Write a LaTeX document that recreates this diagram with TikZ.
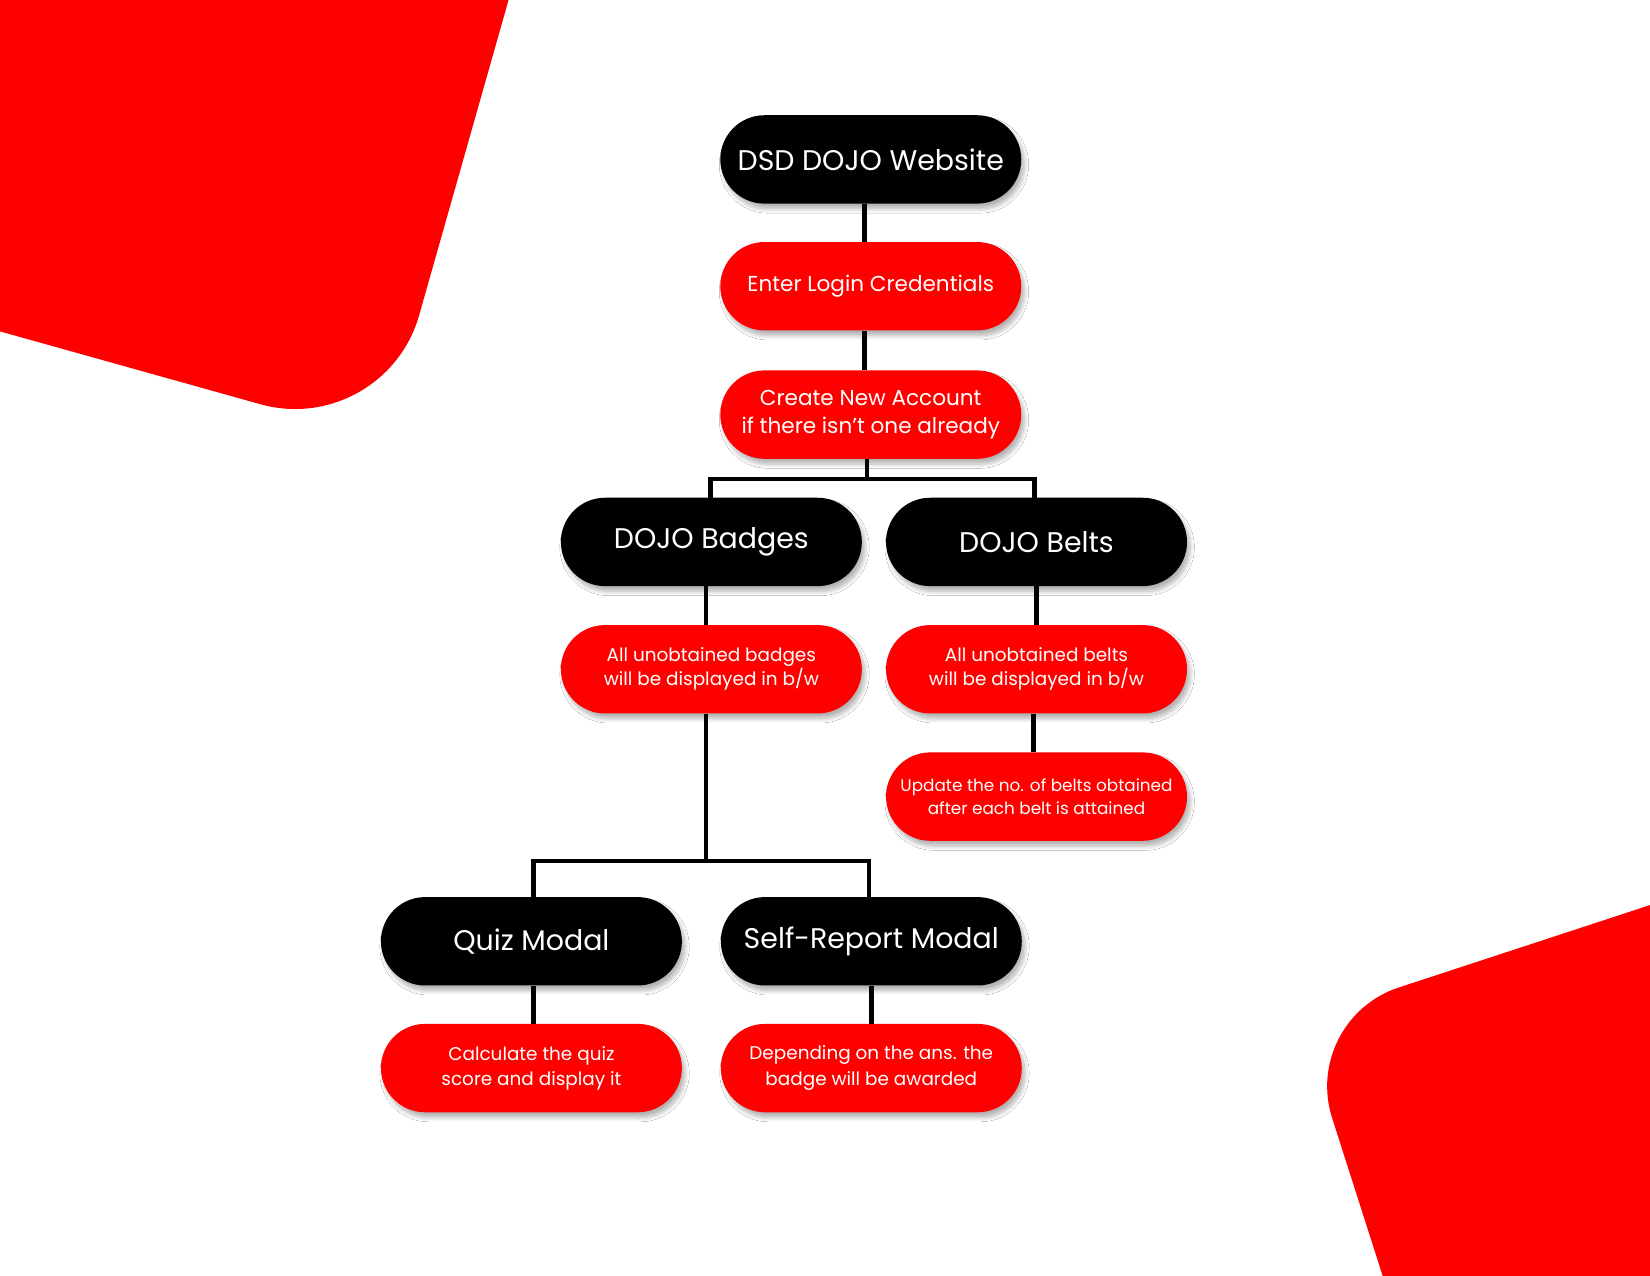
\documentclass[tikz,border=0pt]{standalone}
\usepackage{fontspec}
\setmainfont{Poppins}
\usetikzlibrary{shadows.blur}
\definecolor{dred}{HTML}{FE0000}
\tikzset{
  pill/.style={rectangle, rounded corners=42pt, minimum width=286pt, minimum height=84pt,
    inner sep=0pt, align=center, text=white,
    blur shadow={shadow xshift=3pt, shadow yshift=-5pt, shadow blur radius=4pt, shadow blur steps=8, shadow opacity=30}},
  blackpill/.style={pill, fill=black, font=\fontsize{27}{31}\selectfont},
  redpill/.style={pill, fill=dred},
  conn/.style={line width=4.2pt, black}
}
\begin{document}
\begin{tikzpicture}[x=1pt,y=-1pt]
\useasboundingbox (0,0) rectangle (1568,1212);
\fill[white] (0,0) rectangle (1568,1212);
\begin{scope}
  \clip (0,0) rectangle (1568,1212);
  \fill[dred, rounded corners=122pt] (-200,-200) -- (540,-200) -- (365,417) -- (-200,259) -- cycle;
  \fill[dred, rounded corners=98pt] (1236,969) -- (1800,784) -- (1800,1450) -- (1390,1450) -- cycle;
\end{scope}

\node[blackpill] (dsd) at (827.5,151.5) {DSD DOJO Website};
\node[redpill, font=\fontsize{20.5}{26}\selectfont] (login) at (827.5,272) {Enter Login Credentials};
\node[redpill, font=\fontsize{20.5}{26}\selectfont] (create) at (827.5,394) {Create New Account\\if there isn’t one already};
\node[blackpill] (badges) at (676,515) {DOJO Badges};
\node[blackpill] (belts) at (985,515) {DOJO Belts};
\node[redpill, font=\fontsize{17.5}{23}\selectfont] (allbadges) at (676,636) {All unobtained badges\\will be displayed in b/w};
\node[redpill, font=\fontsize{17.5}{23}\selectfont] (allbelts) at (985,636) {All unobtained belts\\will be displayed in b/w};
\node[redpill, font=\fontsize{16}{21}\selectfont] (update) at (985,757) {Update the no. of belts obtained\\after each belt is attained};
\node[blackpill] (quiz) at (505,894.5) {Quiz Modal};
\node[blackpill] (self) at (828,894.5) {Self-Report Modal};
\node[redpill, font=\fontsize{17.5}{24}\selectfont] (calc) at (505,1015) {Calculate the quiz\\score and display it};
\node[redpill, font=\fontsize{17.5}{24}\selectfont] (depend) at (828,1015) {Depending on the ans. the\\badge will be awarded};

\coordinate (j1) at (824,455);
\coordinate (j2) at (671,818);

\draw[conn] ([xshift=-6pt]dsd.south) -- ([xshift=-6pt]login.north);
\draw[conn] ([xshift=-6pt]login.south) -- ([xshift=-6pt]create.north);
\draw[conn] (create.south -| j1) -- (j1);
\draw[conn] ([xshift=-1pt]badges.north) |- (j1) -| ([xshift=-2pt]belts.north);
\draw[conn] ([xshift=-5pt]badges.south) -- ([xshift=-5pt]allbadges.north);
\draw[conn] (belts.south) -- (allbelts.north);
\draw[conn] ([xshift=-3pt]allbelts.south) -- ([xshift=-3pt]update.north);
\draw[conn] (allbadges.south -| j2) -- (j2);
\draw[conn] ([xshift=2pt]quiz.north) |- (j2) -| ([xshift=-2pt]self.north);
\draw[conn] ([xshift=2pt]quiz.south) -- ([xshift=2pt]calc.north);
\draw[conn] (self.south) -- (depend.north);
\end{tikzpicture}
\end{document}
